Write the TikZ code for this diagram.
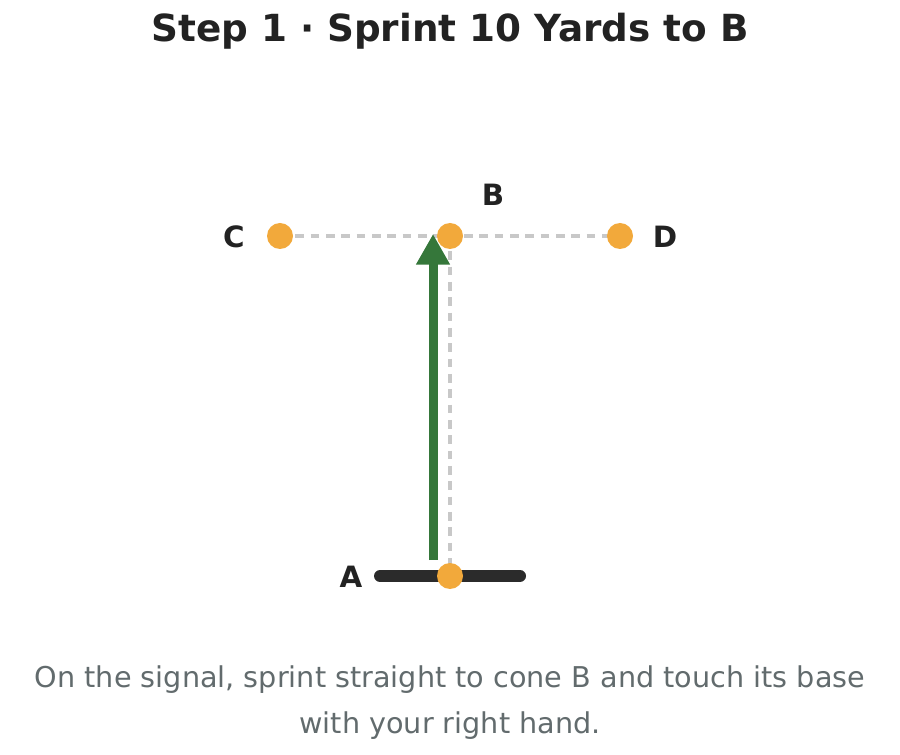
\documentclass[tikz,border=0pt]{standalone}
\usepackage{fontspec}
\setmainfont{DejaVu Sans}
\usetikzlibrary{arrows.meta}
\definecolor{conecol}{HTML}{F2A93B}
\definecolor{pathcol}{HTML}{C8C8C8}
\definecolor{runcol}{HTML}{35773A}
\definecolor{barcol}{HTML}{2B2B2B}
\definecolor{inkcol}{HTML}{222222}
\definecolor{notecol}{HTML}{626B6D}

\begin{document}
\begin{tikzpicture}[
    x=0.75pt, y=-0.75pt,
    cone/.style={circle,fill=conecol,minimum size=19.5pt,inner sep=0pt},
    conelabel/.style={anchor=base,inner sep=0pt,text=inkcol,font=\fontsize{22}{26}\selectfont\bfseries},
    guide/.style={draw=pathcol,line width=2.6pt,dash pattern=on 6.5pt off 5pt},
    note/.style={anchor=base,inner sep=0pt,text=notecol,font=\fontsize{21.5}{26}\selectfont}
    ]

    \useasboundingbox (0,0) rectangle (900,755);

    \node[anchor=base,inner sep=0pt,text=inkcol,font=\fontsize{28}{33}\selectfont\bfseries]
      (title) at (450,42) {Step 1 · Sprint 10 Yards to B};

    % start line and guide lines
    \coordinate (barL) at (380,576);
    \coordinate (barR) at (520,576);
    \draw[barcol,line width=9pt,line cap=round] (barL) -- (barR);

    \coordinate (cC) at (280,236);
    \coordinate (cB) at (450,236);
    \coordinate (cD) at (620,236);
    \coordinate (cA) at (450,576);
    \path[guide] (cC) -- (cD);
    \path[guide] (cB) -- (cA);

    % sprint
    \coordinate (runS) at (433,560);
    \coordinate (runE) at (433,234);
    \draw[runcol,line width=6.75pt,-{Triangle[width=24pt,length=23pt]}] (runS) -- (runE);

    \node[cone] (a) at (cA) {};
    \node[cone] (b) at (cB) {};
    \node[cone] (c) at (cC) {};
    \node[cone] (d) at (cD) {};

    \node[conelabel] (la) at (351,587) {A};
    \node[conelabel] (lb) at (493,206) {B};
    \node[conelabel] (lc) at (234,248) {C};
    \node[conelabel] (ld) at (665,248) {D};

    \node[note] (note1) at (450,687) {On the signal, sprint straight to cone B and touch its base};
    \node[note] (note2) at (450,733) {with your right hand.};

  \end{tikzpicture}
\end{document}
